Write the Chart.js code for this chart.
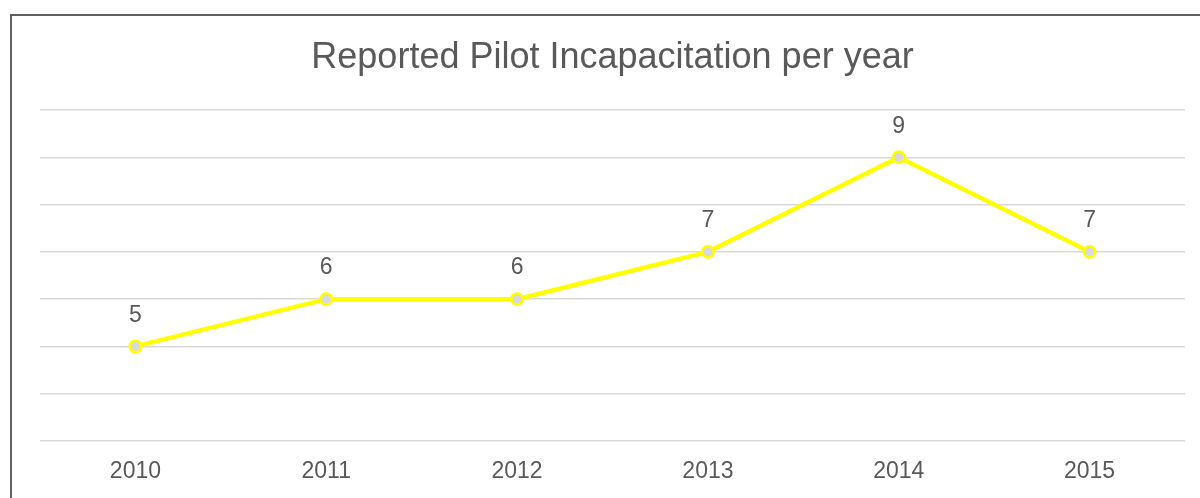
<!DOCTYPE html>
<html>
<head>
<meta charset="utf-8">
<script src="https://cdn.jsdelivr.net/npm/chart.js@4"></script>
<style>
    html, body { margin: 0; padding: 0; background: #fff; overflow: hidden; }
    #frame { position: absolute; left: 10px; top: 14px; width: 1300px; height: 600px; border: 2px solid #616161; box-sizing: border-box; }
    #wrap { position: absolute; left: 0; top: 0; width: 1200px; height: 498px; }
</style>
</head>
<body>
<div id="frame"></div>
<div id="wrap"><canvas id="chart" width="1200" height="498"></canvas></div>
<script>
const years = ['2010', '2011', '2012', '2013', '2014', '2015'];
const incapacitations = [5, 6, 6, 7, 9, 7];
const chartTitle = 'Reported Pilot Incapacitation per year';

const fontFamily = '"Liberation Sans", Arial, sans-serif';

// draws the value above each point
const valueLabels = {
    id: 'valueLabels',
    afterDatasetsDraw(chart) {
        const ctx = chart.ctx;
        const meta = chart.getDatasetMeta(0);
        ctx.save();
        ctx.font = '23px ' + fontFamily;
        ctx.fillStyle = '#595959';
        ctx.textAlign = 'center';
        ctx.textBaseline = 'middle';
        meta.data.forEach((pt, i) => {
            ctx.fillText(String(incapacitations[i]), pt.x, pt.y - 31);
        });
        ctx.restore();
    }
};

const context = document.getElementById('chart').getContext('2d');
new Chart(context, {
    type: 'line',
    data: {
        labels: years,
        datasets: [{
            label: 'Incapacitations',
            data: incapacitations,
            borderColor: '#ffff00',
            backgroundColor: '#d9d9d9',
            borderWidth: 4.5,
            tension: 0,
            pointRadius: 5.75,
            pointBorderWidth: 2.5,
            pointBorderColor: '#ffff00',
            pointBackgroundColor: '#d9d9d9'
        }]
    },
    options: {
        responsive: false,
        animation: false,
        layout: { padding: { left: 40, right: 15, top: 0, bottom: 0 } },
        scales: {
            x: {
                offset: true,
                grid: { display: false, drawTicks: false },
                border: { display: false },
                afterFit: (scale) => { scale.height = 57; },
                ticks: {
                    padding: 16.5,
                    color: '#595959',
                    maxRotation: 0,
                    font: { family: fontFamily, size: 23 }
                }
            },
            y: {
                display: true,
                min: 3,
                max: 10,
                grid: { color: '#d9d9d9', lineWidth: 1.4, drawTicks: false },
                border: { display: false },
                ticks: { display: false, stepSize: 1 }
            }
        },
        plugins: {
            legend: { display: false },
            tooltip: { enabled: false },
            title: {
                display: true,
                text: chartTitle,
                color: '#595959',
                padding: { top: 36.4, bottom: 30.4 },
                font: { family: fontFamily, size: 36, weight: 'normal' }
            }
        }
    },
    plugins: [valueLabels]
});
</script>
</body>
</html>
